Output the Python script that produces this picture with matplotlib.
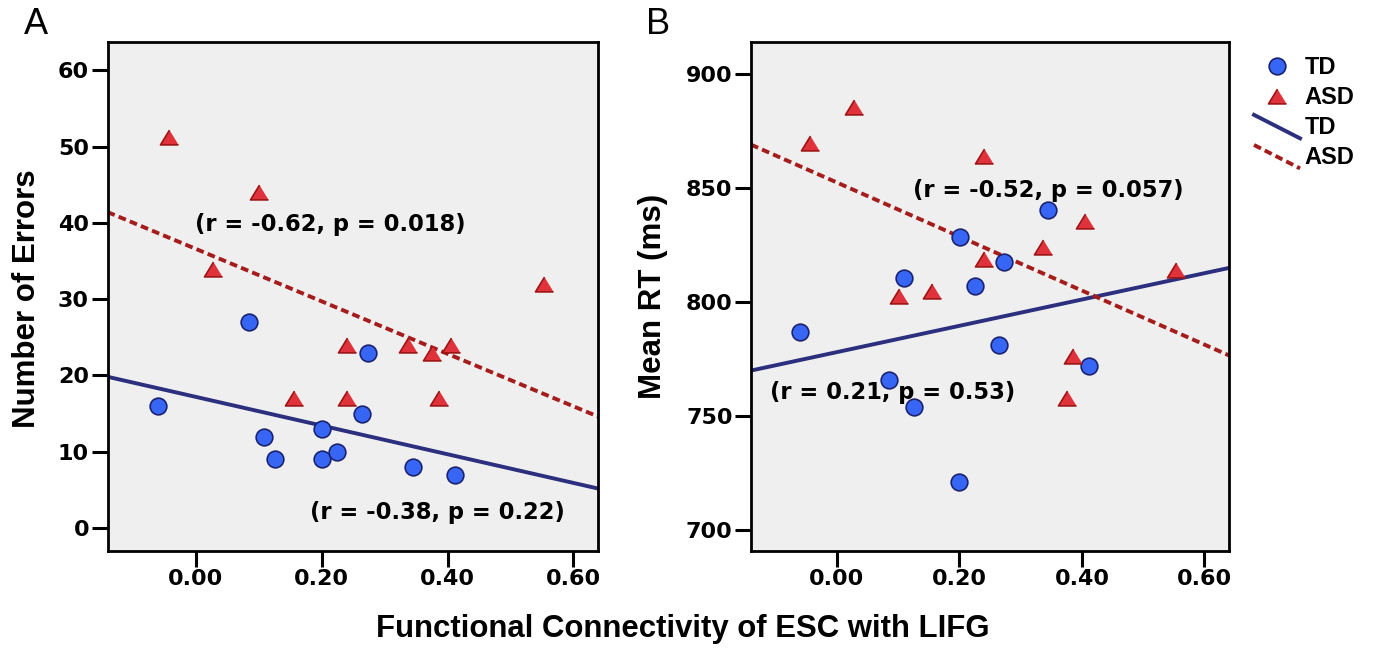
import numpy as np
import matplotlib.pyplot as plt
from matplotlib.lines import Line2D
from matplotlib.legend_handler import HandlerBase

# functional connectivity (x) for each group
conn_td = [-0.060, 0.085, 0.109, 0.126, 0.201, 0.200, 0.225, 0.273, 0.264, 0.345, 0.412]
conn_asd = [-0.043, 0.028, 0.101, 0.156, 0.240, 0.240, 0.337, 0.375, 0.386, 0.405, 0.554]

# panel A: number of errors
errors_td = [16, 27, 12, 9, 13, 9, 10, 23, 15, 8, 7]
errors_asd = [51.3, 34, 44, 17, 24, 17, 24, 23, 17, 24, 32]

# panel B: mean RT (ms)
rt_td = [787, 766, 810.5, 754, 828.7, 721, 807, 817.5, 781, 840.5, 772]
rt_asd = [869.6, 885.5, 802.4, 804.9, 864, 818.9, 824, 757.8, 776.5, 835.5, 814.2]

# fit lines: (intercept, slope)
fit_a_td = (17.2, -18.8)
fit_a_asd = (36.6, -34.4)
fit_b_td = (778.0, 57.7)
fit_b_asd = (852.4, -118.5)

stats_a = ["(r = -0.62, p = 0.018)", "(r = -0.38, p = 0.22)"]
stats_b = ["(r = -0.52, p = 0.057)", "(r = 0.21, p = 0.53)"]

xticks = [0.0, 0.2, 0.4, 0.6]
yticks_a = [0, 10, 20, 30, 40, 50, 60]
yticks_b = [700, 750, 800, 850, 900]

# styles
TD_FACE, TD_EDGE, TD_LINE = "#3766f4", "#1b2370", "#2b2f7e"
ASD_FACE, ASD_EDGE, ASD_LINE = "#e0323a", "#9c1414", "#a51c1c"
BG = "#efefef"
TRI = [(0, 0.82), (-1, -0.82), (1, -0.82)]
NUM_FONT = dict(family="DejaVu Sans", weight="bold")
LAB_FONT = dict(family="Liberation Sans", weight="bold")


class HandlerSlant(HandlerBase):
    # SPSS style legend: lines drawn on a slant
    def create_artists(self, legend, orig_handle, xdescent, ydescent,
                       width, height, fontsize, trans):
        ln = Line2D([-xdescent, -xdescent + width],
                    [height + 2, -ydescent - 3])
        self.update_prop(ln, orig_handle, legend)
        ln.set_transform(trans)
        return [ln]


def draw_panel(ax, ytd, yasd, fit_td, fit_asd, xlim, ylim, yticks, stats, stat_pos):
    ax.set_facecolor(BG)
    ax.set_xlim(*xlim)
    ax.set_ylim(*ylim)
    xs = np.array(xlim)
    ax.plot(xs, fit_td[0] + fit_td[1] * xs, color=TD_LINE, lw=2.8, zorder=2)
    ax.plot(xs, fit_asd[0] + fit_asd[1] * xs, color=ASD_LINE, lw=2.8,
            dashes=(2.0, 1.1), zorder=2)
    ax.plot(conn_td, ytd, ls="none", marker="o", ms=12, mfc=TD_FACE,
            mec=TD_EDGE, mew=1.2, zorder=3)
    ax.plot(conn_asd, yasd, ls="none", marker=TRI, ms=13, mfc=ASD_FACE,
            mec=ASD_EDGE, mew=1.2, zorder=3)
    for s, (x, y) in zip(stats, stat_pos):
        ax.text(x, y, s, ha="center", va="center", fontsize=16.3, zorder=4, **NUM_FONT)
    ax.set_xticks(xticks)
    ax.set_xticklabels([f"{v:.2f}" for v in xticks], fontsize=16, **NUM_FONT)
    ax.set_yticks(yticks)
    ax.set_yticklabels([str(v) for v in yticks], fontsize=16, **NUM_FONT)
    ax.tick_params(length=11.5, width=2.2, pad=1.8, direction="out")
    for sp in ax.spines.values():
        sp.set_linewidth(2)


fig = plt.figure(figsize=(13.74, 6.5), dpi=100)
ax_a = fig.add_axes([107.5 / 1374, 99 / 650, 490.5 / 1374, 509 / 650])
ax_b = fig.add_axes([751 / 1374, 99 / 650, 478 / 1374, 509 / 650])

draw_panel(ax_a, errors_td, errors_asd, fit_a_td, fit_a_asd,
           (-0.14, 0.639), (-3.0, 63.7), yticks_a, stats_a,
           [(0.214, 39.8), (0.384, 2.1)])
draw_panel(ax_b, rt_td, rt_asd, fit_b_td, fit_b_asd,
           (-0.14, 0.64), (690.8, 914.0), yticks_b, stats_b,
           [(0.345, 848.9), (0.091, 760.5)])

ax_a.text(-0.165, 0.495, "Number of Errors", rotation=90, ha="center", va="center",
          transform=ax_a.transAxes, fontsize=22.5, **LAB_FONT)
ax_b.text(-0.204, 0.5, "Mean RT (ms)", rotation=90, ha="center", va="center",
          transform=ax_b.transAxes, fontsize=22.5, **LAB_FONT)
fig.text(0.497, 0.033, "Functional Connectivity of ESC with LIFG", ha="center",
         va="center", fontsize=22.4, **LAB_FONT)
fig.text(0.026, 0.963, "A", ha="center", va="center", fontsize=26, family="Liberation Sans")
fig.text(0.479, 0.963, "B", ha="center", va="center", fontsize=26, family="Liberation Sans")

h_td = Line2D([], [], ls="none", marker="o", ms=12, mfc=TD_FACE, mec=TD_EDGE, mew=1.2)
h_asd = Line2D([], [], ls="none", marker=TRI, ms=13, mfc=ASD_FACE, mec=ASD_EDGE, mew=1.2)
h_td_line = Line2D([], [], color=TD_LINE, lw=2.8)
h_asd_line = Line2D([], [], color=ASD_LINE, lw=2.8, dashes=(2.0, 1.1))
leg = fig.legend([h_td, h_asd, h_td_line, h_asd_line], ["TD", "ASD", "TD", "ASD"],
                 loc="upper left", bbox_to_anchor=(1254 / 1374, 1 - 56 / 650),
                 frameon=False, borderpad=0, borderaxespad=0, handlelength=1.95,
                 handletextpad=0.2, labelspacing=0.3,
                 prop=dict(family="Liberation Sans", weight="bold", size=17),
                 handler_map={h_td_line: HandlerSlant(), h_asd_line: HandlerSlant()})

fig.savefig("out.png", dpi=100)
